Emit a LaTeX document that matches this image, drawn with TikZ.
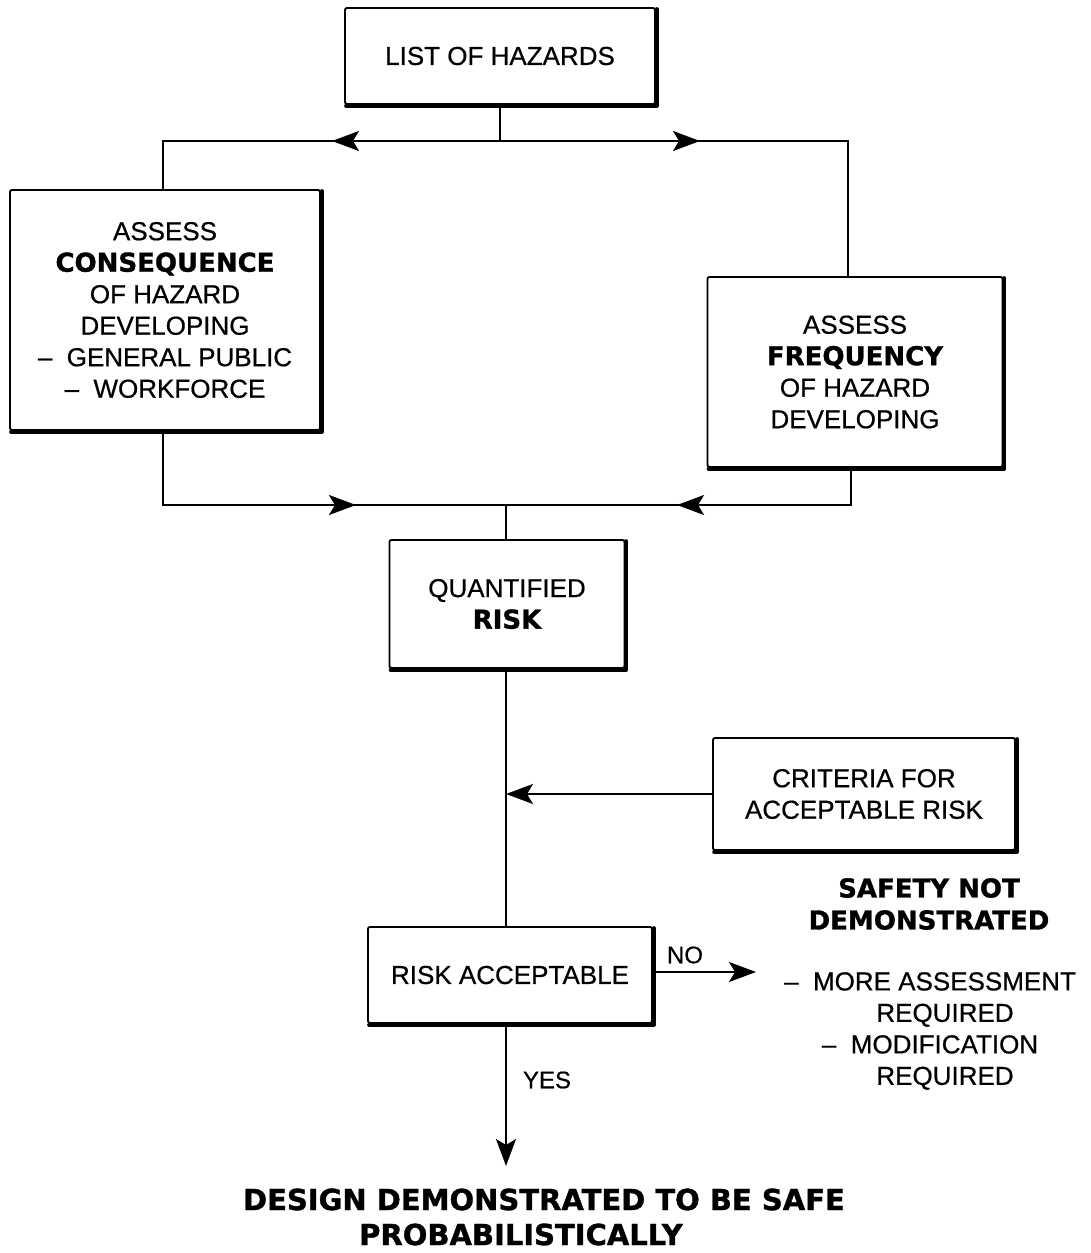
\documentclass[tikz,border=0pt]{standalone}
\usepackage{fontspec}
\setmainfont{Liberation Sans}[FakeBold=0.6]
\newfontfamily\heavyfont{DejaVu Sans Bold}[FakeBold=1.2]
\usetikzlibrary{arrows.meta,decorations.markings}
\newcommand\boxshadow[1]{\draw[line width=3.8pt,line cap=round,line join=round] ([xshift=0.8pt,yshift=-2pt]#1.north east) -- ([xshift=0.8pt,yshift=-0.8pt]#1.south east) -- ([xshift=2pt,yshift=-0.8pt]#1.south west);}
\begin{document}
\begin{tikzpicture}[x=1pt,y=-1pt,
  box/.style={draw,line width=1.9pt,rounded corners=2pt,align=center,inner sep=0pt,
    font=\fontsize{26}{31.5}\selectfont},
  lbl/.style={align=center,inner sep=0pt,font=\fontsize{26}{31.5}\selectfont},
  hv/.style={align=center,inner sep=0pt,font=\fontsize{26}{32}\selectfont\heavyfont},
  conn/.style={line width=1.9pt},
  tip/.style={-{Stealth[length=27pt,width=20pt,inset=6pt]}},
  midarr/.style={postaction={decorate},decoration={markings,
    mark=at position #1 with {\arrow{Stealth[length=27pt,width=20pt,inset=6pt]}}}}
]
\useasboundingbox (0,0) rectangle (1090,1253);

% boxes
\node[box,minimum width=310pt,minimum height=96pt] (haz) at (500,56) {LIST OF HAZARDS};
\node[box,minimum width=310pt,minimum height=240pt] (cons) at (165,310)
  {ASSESS\\{\heavyfont CONSEQUENCE}\\OF HAZARD\\DEVELOPING\\\textendash\ \ GENERAL PUBLIC\\\textendash\ \ WORKFORCE};
\node[box,minimum width=295pt,minimum height=190pt] (freq) at (855,372)
  {ASSESS\\{\heavyfont FREQUENCY}\\OF HAZARD\\DEVELOPING};
\node[box,minimum width=235pt,minimum height=128pt] (qr) at (507,604)
  {QUANTIFIED\\{\heavyfont RISK}};
\node[box,minimum width=302pt,minimum height=112pt] (crit) at (864,794)
  {CRITERIA FOR\\ACCEPTABLE RISK};
\node[box,minimum width=284pt,minimum height=96pt] (racc) at (510,975) {RISK ACCEPTABLE};

\boxshadow{haz}
\boxshadow{cons}
\boxshadow{freq}
\boxshadow{qr}
\boxshadow{crit}
\boxshadow{racc}

% top split
\coordinate (tj) at (500,141);
\draw[conn] (haz.south) -- (tj);
\draw[conn,midarr=168pt] (tj) -| ([xshift=-2pt]cons.north);
\draw[conn,midarr=200pt] (tj) -| ([xshift=-7pt]freq.north);

% merge
\coordinate (bj) at (506,505);
\draw[conn,midarr=267pt] ([xshift=-2pt]cons.south) |- (bj);
\draw[conn,midarr=211pt] ([xshift=-4pt]freq.south) |- (bj);
\draw[conn] (bj) -- (qr.north -| bj);

% main column
\draw[conn] (qr.south -| bj) -- (racc.north -| bj);
\draw[conn,tip] (crit.west) -- (crit.west -| bj);

% NO branch
\coordinate (nend) at (756,972);
\draw[conn,tip] (racc.east |- nend) -- (nend);
\node[lbl,font=\fontsize{24}{28}\selectfont] (no) at (685,955) {NO};

% YES branch
\coordinate (yend) at (506,1166);
\draw[conn,tip] (racc.south -| yend) -- (yend);
\node[lbl,font=\fontsize{24}{28}\selectfont] (yes) at (547,1080) {YES};

% right texts
\node[hv] (snd) at (929,904) {SAFETY NOT\\DEMONSTRATED};
\node[lbl] (more) at (930,1031)
  {\textendash\ \ MORE ASSESSMENT\\\hspace*{30pt}REQUIRED\\\textendash\ \ MODIFICATION\\\hspace*{30pt}REQUIRED};

% result
\node[hv,font=\fontsize{29}{35}\selectfont\heavyfont] (res) at (544,1217)
  {DESIGN DEMONSTRATED TO BE SAFE\\PROBABILISTICALLY\hspace*{46pt}};
\end{tikzpicture}
\end{document}
